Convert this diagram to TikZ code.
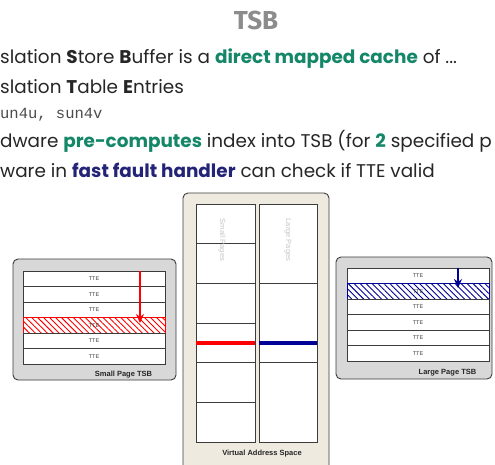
\documentclass[tikz,border=0pt]{standalone}
\usepackage{fontspec}
\setmainfont{Poppins}
\setmonofont{Liberation Mono}
\newfontfamily\diagfont{Liberation Sans}
\newfontfamily\headfont{Fira Sans}
\usepackage{tikz}
\usetikzlibrary{shapes,arrows,arrows.meta,patterns.meta}
\definecolor{keygreen}{RGB}{20,135,105}
\definecolor{keynavy}{RGB}{35,35,120}
\definecolor{idxblue}{RGB}{0,0,150}
\definecolor{panelgray}{RGB}{216,216,216}
\definecolor{panelbeige}{RGB}{238,234,223}
\definecolor{rimgray}{RGB}{60,60,60}
\tikzstyle{bodyline} = [anchor=base west, inner sep=0pt, text=black!85, font=\fontsize{18.4}{19}\selectfont]
\tikzstyle{panel} = [rectangle, rounded corners=5pt, draw=rimgray, line width=0.9pt, inner sep=0pt]
\tikzstyle{tte} = [rectangle, minimum width=142pt, minimum height=15.5pt, inner sep=0pt, draw=rimgray, fill=white, line width=0.8pt, text=black!75, font=\diagfont\fontsize{5.5}{6}\selectfont]
\tikzstyle{hitred} = [draw=red, preaction={fill=white}, pattern={Lines[angle=-45,distance=4.2pt,line width=0.9pt]}, pattern color=red]
\tikzstyle{hitblue} = [draw=idxblue, preaction={fill=white}, pattern={Lines[angle=-45,distance=4.2pt,line width=0.9pt]}, pattern color=idxblue]
\tikzstyle{vcell} = [rectangle, inner sep=0pt, draw=rimgray, fill=white, line width=0.8pt]
\tikzstyle{caption} = [inner sep=0pt, text=black!85, font=\diagfont\bfseries\fontsize{7.5}{8}\selectfont]
\tikzstyle{colname} = [inner sep=0pt, rotate=-90, text=black!22, font=\diagfont\fontsize{7.5}{8}\selectfont]
\tikzstyle{idxarrow} = [line width=1.8pt, -{Stealth[length=9pt,width=8pt]}]
\tikzstyle{hitbar} = [line width=4.5pt]

\begin{document}
\begin{tikzpicture}[x=1pt, y=-1pt, node distance=15.5pt]
\useasboundingbox (0,0) rectangle (495,464);
\clip (0,0) rectangle (495,464);
\fill[white] (0,0) rectangle (495,464);

\node (title) [anchor=base, inner sep=0pt, text=black!45, font=\headfont\bfseries\fontsize{26}{26}\selectfont] at (256,29) {TSB};
\node (l1) [bodyline] at (0,63) {slation \textbf{S}tore \textbf{B}uffer is a \textcolor{keygreen}{\textbf{direct mapped cache}} of ...};
\node (l2) [bodyline] at (0,93) {slation \textbf{T}able \textbf{E}ntries};
\node (l3) [bodyline, text=black!70, font=\ttfamily\fontsize{15.5}{16}\selectfont] at (0,118) {un4u, sun4v};
\node (l4) [bodyline] at (0,147) {dware \textcolor{keygreen}{\textbf{pre-computes}} index into TSB (for \textcolor{keygreen}{\textbf{2}} specified p};
\node (l5) [bodyline] at (0,177) {ware in \textcolor{keynavy}{\textbf{fast fault handler}} can check if TTE valid};

\node (smallbox) [panel, fill=panelgray, minimum width=163pt, minimum height=121pt] at (94.5,319.5) {};
\node (s1) [tte] at (94,278.75) {TTE};
\node (s2) [tte, below of=s1] {TTE};
\node (s3) [tte, below of=s2] {TTE};
\node (s4) [tte, hitred, below of=s3] {TTE};
\node (s5) [tte, below of=s4] {TTE};
\node (s6) [tte, below of=s5] {TTE};
\node (smallname) [caption] at (123.5,374.5) {Small Page TSB};

\draw [panel, fill=panelbeige] (183,480) -- (183,193) -- (329,193) -- (329,480);
\begin{scope}[node distance=39.67pt]
\node (sp1) [vcell, minimum width=59pt, minimum height=39.67pt] at (225.5,223.8) {};
\node (sp2) [vcell, minimum width=59pt, minimum height=39.67pt, below of=sp1] {};
\node (sp3) [vcell, minimum width=59pt, minimum height=39.67pt, below of=sp2] {};
\node (sp4) [vcell, minimum width=59pt, minimum height=39.67pt, below of=sp3] {};
\node (sp5) [vcell, minimum width=59pt, minimum height=39.67pt, below of=sp4] {};
\node (sp6) [vcell, minimum width=59pt, minimum height=39.67pt, below of=sp5] {};
\end{scope}
\begin{scope}[node distance=79.33pt]
\node (lp1) [vcell, minimum width=58pt, minimum height=79.33pt] at (288,243.7) {};
\node (lp2) [vcell, minimum width=58pt, minimum height=79.33pt, below of=lp1] {};
\node (lp3) [vcell, minimum width=58pt, minimum height=79.33pt, below of=lp2] {};
\end{scope}
\node (smallcol) [colname] at (222,240) {Small Pages};
\node (largecol) [colname] at (288,240) {Large Pages};
\node (vasname) [caption] at (262,454) {Virtual Address Space};

\node (largebox) [panel, fill=panelgray, minimum width=156pt, minimum height=122pt] at (414,318) {};
\node (b1) [tte] at (418,275.75) {TTE};
\node (b2) [tte, hitblue, below of=b1] {TTE};
\node (b3) [tte, below of=b2] {TTE};
\node (b4) [tte, below of=b3] {TTE};
\node (b5) [tte, below of=b4] {TTE};
\node (b6) [tte, below of=b5] {TTE};
\node (largename) [caption] at (447.5,373) {Large Page TSB};

\coordinate (smallidx) at (140,323);
\coordinate (largeidx) at (458,288);
\coordinate (vaddr) at (0,343);
\draw [hitbar, red] (sp4.west |- vaddr) -- (sp4.east |- vaddr);
\draw [hitbar, idxblue] (lp2.west |- vaddr) -- (lp2.east |- vaddr);
\draw [idxarrow, red] (s1.north -| smallidx) -- (smallidx);
\draw [idxarrow, idxblue] (b1.north -| largeidx) -- (largeidx);
\end{tikzpicture}
\end{document}
